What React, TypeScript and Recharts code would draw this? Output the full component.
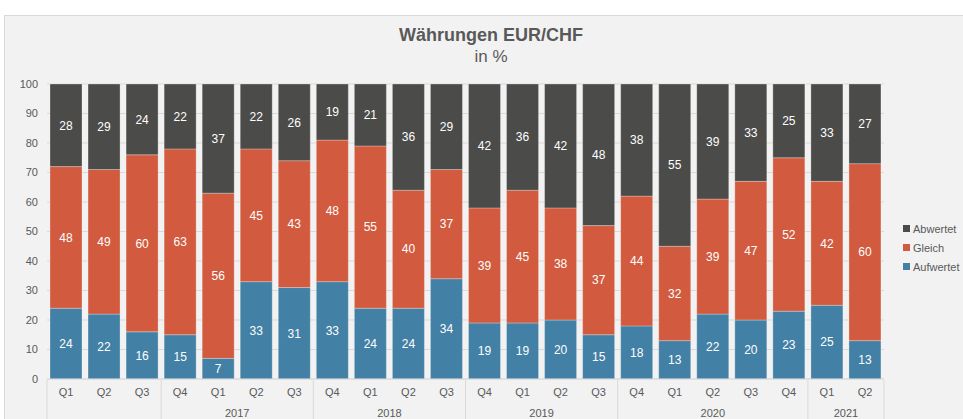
import React from "react";
import { BarChart, Bar, XAxis, YAxis, CartesianGrid, LabelList } from "recharts";

const quarters = ["Q1","Q2","Q3","Q4","Q1","Q2","Q3","Q4","Q1","Q2","Q3","Q4","Q1","Q2","Q3","Q4","Q1","Q2","Q3","Q4","Q1","Q2"];
const aufwertet = [24,22,16,15,7,33,31,33,24,24,34,19,19,20,15,18,13,22,20,23,25,13];
const gleich = [48,49,60,63,56,45,43,48,55,40,37,39,45,38,37,44,32,39,47,52,42,60];
const abwertet = [28,29,24,22,37,22,26,19,21,36,29,42,36,42,48,38,55,39,33,25,33,27];
const yearGroups = [
  { label: "", start: 0, count: 3 },
  { label: "2017", start: 3, count: 4 },
  { label: "2018", start: 7, count: 4 },
  { label: "2019", start: 11, count: 4 },
  { label: "2020", start: 15, count: 5 },
  { label: "2021", start: 20, count: 2 },
];
const yTicks = [0,10,20,30,40,50,60,70,80,90,100];

const COLORS = { abwertet: "#4b4b49", gleich: "#d25a3e", aufwertet: "#4280a5" };
const TEXT = "#595959";
const GRID = "#d9d9d9";
const FONT = "'Liberation Sans', Arial, sans-serif";

const data = quarters.map((q, i) => ({
  q: q + "_" + i,
  label: q,
  Aufwertet: aufwertet[i],
  Gleich: gleich[i],
  Abwertet: abwertet[i],
}));

const CHART_W = 958;
const CHART_H = 403;
const M = { top: 68, right: 79, left: 0, bottom: 0 };
const Y_W = 42;
const PLOT_W = CHART_W - M.left - M.right - Y_W;
const BW = PLOT_W / data.length;

const XTick = (props: any) => {
  const { x, y, index, payload } = props;
  const i = index ?? payload?.index ?? 0;
  const items: React.ReactNode[] = [];
  items.push(
    <text key="q" x={x} y={y + 15} textAnchor="middle" fill={TEXT} fontSize={11} fontFamily={FONT}>
      {data[i].label}
    </text>
  );
  const g = yearGroups.find((gr) => gr.start === i);
  if (g) {
    const left = x - BW / 2;
    items.push(<line key="sep" x1={left} x2={left} y1={y - 1} y2={y + 45} stroke={GRID} strokeWidth={1} />);
    if (g.label) {
      items.push(
        <text key="y" x={left + (g.count * BW) / 2} y={y + 36} textAnchor="middle" fill={TEXT} fontSize={11} fontFamily={FONT}>
          {g.label}
        </text>
      );
    }
  }
  if (i === data.length - 1) {
    const right = x + BW / 2;
    items.push(<line key="sepr" x1={right} x2={right} y1={y - 1} y2={y + 45} stroke={GRID} strokeWidth={1} />);
  }
  return <g>{items}</g>;
};

const legendItems = [
  { name: "Abwertet", color: COLORS.abwertet },
  { name: "Gleich", color: COLORS.gleich },
  { name: "Aufwertet", color: COLORS.aufwertet },
];

export default function App() {
  return (
    <div
      style={{
        position: "absolute",
        left: 4,
        top: 15,
        width: 958,
        height: 404,
        background: "#f2f2f2",
        borderTop: "1px solid #d9d9d9",
        borderLeft: "1px solid #d9d9d9",
        fontFamily: FONT,
        overflow: "hidden",
      }}
    >
      <div style={{ position: "absolute", left: 286, top: 9, width: 400, textAlign: "center", color: TEXT }}>
        <div style={{ fontSize: 18, fontWeight: "bold", lineHeight: "21px" }}>Währungen EUR/CHF</div>
        <div style={{ fontSize: 17, lineHeight: "21px" }}>in %</div>
      </div>
      <div style={{ position: "absolute", left: 0, top: 0 }}>
        <BarChart width={CHART_W} height={CHART_H} data={data} margin={M} barSize={32}>
          <CartesianGrid vertical={false} stroke={GRID} strokeWidth={1} />
          <XAxis
            dataKey="q"
            interval={0}
            height={40}
            tickLine={false}
            axisLine={{ stroke: GRID }}
            tickSize={0}
            tick={<XTick />}
          />
          <YAxis
            width={Y_W}
            domain={[0, 100]}
            ticks={yTicks}
            interval={0}
            tickLine={false}
            axisLine={false}
            tickSize={0}
            tickMargin={9}
            tick={{ fill: TEXT, fontSize: 11, fontFamily: FONT }}
          />
          <Bar dataKey="Aufwertet" stackId="a" fill={COLORS.aufwertet} stroke="rgba(255,255,255,0.35)" strokeWidth={0.8} isAnimationActive={false}>
            <LabelList dataKey="Aufwertet" position="center" fill="#ffffff" fontSize={12} fontFamily={FONT} />
          </Bar>
          <Bar dataKey="Gleich" stackId="a" fill={COLORS.gleich} stroke="rgba(255,255,255,0.35)" strokeWidth={0.8} isAnimationActive={false}>
            <LabelList dataKey="Gleich" position="center" fill="#ffffff" fontSize={12} fontFamily={FONT} />
          </Bar>
          <Bar dataKey="Abwertet" stackId="a" fill={COLORS.abwertet} stroke="rgba(255,255,255,0.35)" strokeWidth={0.8} isAnimationActive={false}>
            <LabelList dataKey="Abwertet" position="center" fill="#ffffff" fontSize={12} fontFamily={FONT} />
          </Bar>
        </BarChart>
      </div>
      <div style={{ position: "absolute", left: 898, top: 203 }}>
        {legendItems.map((it) => (
          <div key={it.name} style={{ display: "flex", alignItems: "center", height: 19, fontSize: 11, color: TEXT }}>
            <span style={{ display: "inline-block", width: 7, height: 7, background: it.color, marginRight: 3 }} />
            {it.name}
          </div>
        ))}
      </div>
    </div>
  );
}
